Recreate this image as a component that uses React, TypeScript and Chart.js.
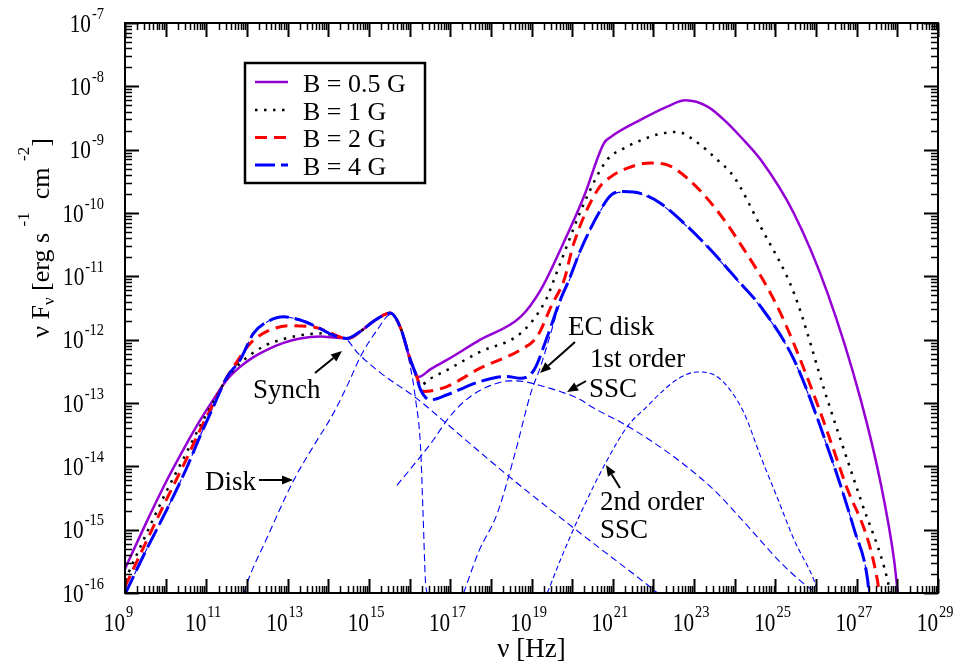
import { useEffect, useRef } from 'react';
import { Chart, registerables } from 'chart.js';

Chart.register(...registerables);

const SERIF = '"Liberation Serif", "Times New Roman", Times, serif';

// ---- Data (log10 of frequency [Hz] and log10 of nuFnu [erg s^-1 cm^-2]) ----
const b05LogNu = [9.0, 9.5, 10.03, 10.5, 10.85, 11.17, 11.5, 11.83, 12.15, 12.49, 12.9, 13.31, 13.8, 14.21, 14.5, 14.79, 15.16, 15.53, 15.77, 16.02, 16.22, 16.51, 16.92, 17.74, 18.73, 19.22, 19.71, 20.29, 20.78, 20.95, 21.68, 22.34, 22.79, 23.33, 23.82, 24.15, 24.64, 25.45, 26.28, 27.1, 27.6, 27.92, 28.01];
const b05LogF = [-15.62, -14.92, -14.22, -13.66, -13.27, -12.95, -12.64, -12.43, -12.28, -12.16, -12.05, -11.98, -11.95, -11.97, -11.98, -11.87, -11.69, -11.58, -11.8, -12.32, -12.59, -12.47, -12.32, -12.0, -11.64, -11.22, -10.58, -9.74, -8.9, -8.8, -8.53, -8.32, -8.22, -8.32, -8.58, -8.8, -9.16, -10.0, -11.26, -12.95, -14.3, -15.48, -16.0];

const b1LogNu = [9.0, 9.5, 10.0, 10.5, 10.85, 11.2, 11.5, 11.67, 12.08, 12.49, 12.9, 13.31, 13.88, 14.21, 14.5, 14.79, 15.16, 15.53, 15.77, 16.02, 16.14, 16.27, 16.5, 16.92, 17.74, 18.73, 19.34, 19.55, 19.71, 20.29, 20.86, 21.27, 21.7, 22.1, 22.59, 23.0, 23.57, 23.98, 24.64, 25.46, 26.28, 27.1, 27.76, 27.82];
const b1LogF = [-15.8, -15.1, -14.42, -13.8, -13.36, -12.95, -12.62, -12.48, -12.24, -12.08, -11.99, -11.93, -11.9, -11.95, -11.98, -11.87, -11.69, -11.58, -11.8, -12.32, -12.52, -12.72, -12.62, -12.48, -12.19, -11.9, -11.39, -11.06, -10.79, -9.85, -9.16, -8.98, -8.85, -8.76, -8.72, -8.85, -9.16, -9.43, -10.22, -11.27, -12.95, -14.53, -15.8, -16.0];

const b2LogNu = [9.0, 9.5, 10.0, 10.5, 10.85, 11.2, 11.5, 11.67, 12.08, 12.49, 13.06, 13.64, 13.97, 14.3, 14.5, 14.79, 15.16, 15.53, 15.77, 16.02, 16.14, 16.35, 16.6, 16.92, 17.74, 18.73, 19.14, 19.5, 19.8, 20.04, 20.62, 20.95, 21.36, 21.93, 22.34, 22.83, 23.49, 24.1, 25.05, 25.87, 26.69, 27.51, 27.55];
const b2LogF = [-15.9, -15.22, -14.55, -13.9, -13.42, -12.98, -12.6, -12.43, -12.06, -11.87, -11.78, -11.8, -11.87, -11.96, -11.98, -11.87, -11.69, -11.58, -11.8, -12.32, -12.52, -12.82, -12.8, -12.74, -12.45, -12.16, -11.95, -11.45, -11.06, -10.48, -9.64, -9.43, -9.29, -9.21, -9.24, -9.45, -9.9, -10.45, -11.48, -12.74, -14.22, -15.8, -16.0];

const b4LogNu = [9.0, 9.5, 10.0, 10.5, 10.85, 11.2, 11.5, 11.83, 12.16, 12.49, 12.9, 13.31, 13.72, 14.13, 14.46, 14.79, 15.16, 15.53, 15.77, 16.02, 16.14, 16.27, 16.51, 16.92, 17.74, 18.4, 18.73, 19.06, 19.39, 19.71, 19.92, 20.21, 20.7, 20.95, 21.27, 21.68, 22.18, 22.75, 23.33, 24.07, 24.64, 25.46, 26.28, 26.94, 27.27, 27.3];
const b4LogF = [-16.02, -15.35, -14.72, -14.05, -13.52, -13.02, -12.6, -12.32, -11.9, -11.72, -11.64, -11.69, -11.8, -11.93, -11.98, -11.87, -11.69, -11.58, -11.8, -12.32, -12.52, -12.79, -12.95, -12.87, -12.66, -12.58, -12.61, -12.48, -11.95, -11.37, -11.06, -10.58, -9.95, -9.72, -9.66, -9.69, -9.85, -10.16, -10.53, -11.06, -11.48, -12.32, -13.69, -15.0, -15.8, -16.0];

// components (B = 4 G)
const synchLogNu = [9.0, 9.5, 10.0, 10.5, 10.85, 11.2, 11.5, 11.83, 12.16, 12.49, 12.9, 13.31, 13.72, 14.13, 14.46, 14.71, 15.28, 16.18, 16.92, 17.74, 18.56, 20.21, 21.85, 22.1];
const synchLogF = [-16.02, -15.35, -14.72, -14.05, -13.52, -13.02, -12.6, -12.32, -11.9, -11.72, -11.64, -11.69, -11.8, -11.93, -12.0, -12.2, -12.52, -12.93, -13.33, -13.78, -14.22, -15.06, -15.87, -16.0];

const diskLogNu = [11.93, 12.0, 12.5, 13.15, 13.6, 14.13, 14.5, 14.79, 15.2, 15.53, 15.77, 16.02, 16.15, 16.27, 16.33, 16.39, 16.43];
const diskLogF = [-16.0, -15.85, -15.12, -14.22, -13.72, -13.16, -12.68, -12.27, -11.85, -11.61, -11.82, -12.43, -12.95, -13.69, -14.7, -15.8, -16.0];

const ecDiskLogNu = [17.33, 17.7, 18.16, 18.6, 18.98, 19.22, 19.45, 19.71, 19.92, 20.21, 20.7, 20.95, 21.27, 21.68, 22.18, 22.75, 23.33, 24.07, 24.64, 25.46, 26.28, 26.94, 27.27, 27.3];
const ecDiskLogF = [-16.0, -15.35, -14.74, -13.78, -12.85, -12.43, -11.95, -11.4, -11.08, -10.6, -9.96, -9.73, -9.67, -9.7, -9.86, -10.17, -10.54, -11.07, -11.49, -12.33, -13.7, -15.0, -15.8, -16.0];

const ssc1LogNu = [15.69, 16.2, 16.59, 16.92, 17.3, 17.74, 18.1, 18.45, 18.8, 19.3, 19.8, 20.21, 20.53, 21.27, 21.9, 22.67, 23.5, 24.3, 25.1, 25.6, 26.0];
const ssc1LogF = [-14.3, -13.9, -13.58, -13.27, -13.0, -12.8, -12.7, -12.65, -12.66, -12.74, -12.84, -12.95, -13.08, -13.33, -13.58, -13.93, -14.38, -14.93, -15.5, -15.8, -16.0];

const ssc2LogNu = [19.39, 19.71, 20.21, 20.82, 21.36, 21.85, 22.18, 22.6, 23.08, 23.5, 23.82, 24.23, 24.64, 25.05, 25.46, 25.95, 26.05];
const ssc2LogF = [-16.0, -15.48, -14.74, -13.95, -13.37, -13.05, -12.84, -12.62, -12.51, -12.56, -12.74, -13.16, -13.85, -14.5, -15.16, -15.8, -16.0];

const seriesLabels = ['B = 0.5 G', 'B = 1 G', 'B = 2 G', 'B = 4 G'];
const xLabelExps = [9, 11, 13, 15, 17, 19, 21, 23, 25, 27, 29];
const yLabelExps = [-7, -8, -9, -10, -11, -12, -13, -14, -15, -16];

const toPts = (lx: number[], ly: number[]) => lx.map((v, i) => ({ x: Math.pow(10, v), y: Math.pow(10, ly[i]) }));

const PURPLE = '#9400d3';
const RED = '#ff0000';
const BLUE = '#0000ff';

const styles = [
  { color: PURPLE, width: 2.5, dash: [] as number[] },
  { color: '#000000', width: 2.5, dash: [2.5, 6.5] },
  { color: RED, width: 3, dash: [12, 7] },
  { color: BLUE, width: 3, dash: [20, 6] },
];

function txt(ctx: CanvasRenderingContext2D, t: string, x: number, y: number, size: number, sx = 1) {
  ctx.save();
  ctx.font = `${size}px ${SERIF}`;
  ctx.translate(x, y);
  ctx.scale(sx, 1);
  ctx.fillText(t, 0, 0);
  ctx.restore();
}
function meas(ctx: CanvasRenderingContext2D, t: string, size: number, sx = 1) {
  ctx.font = `${size}px ${SERIF}`;
  return ctx.measureText(t).width * sx;
}
function arrow(ctx: CanvasRenderingContext2D, x1: number, y1: number, x2: number, y2: number) {
  const ang = Math.atan2(y2 - y1, x2 - x1);
  const hl = 11, hw = 4.5;
  const bx = x2 - hl * Math.cos(ang), by = y2 - hl * Math.sin(ang);
  ctx.lineWidth = 2;
  ctx.setLineDash([]);
  ctx.beginPath();
  ctx.moveTo(x1, y1);
  ctx.lineTo(bx, by);
  ctx.stroke();
  ctx.beginPath();
  ctx.moveTo(x2, y2);
  ctx.lineTo(bx + hw * Math.sin(ang), by - hw * Math.cos(ang));
  ctx.lineTo(bx - hw * Math.sin(ang), by + hw * Math.cos(ang));
  ctx.closePath();
  ctx.fill();
}

const decor = {
  id: 'decor',
  afterDraw(chart: any) {
    const { ctx, chartArea: a, scales } = chart;
    const xs = scales.x, ys = scales.y;
    ctx.save();
    ctx.fillStyle = '#000';
    ctx.strokeStyle = '#000';
    ctx.textAlign = 'left';
    ctx.textBaseline = 'alphabetic';
    ctx.setLineDash([]);

    // ticks x
    for (let n = 9; n <= 29; n++) {
      for (let k = 1; k <= 9; k++) {
        if (n === 29 && k > 1) break;
        const px = Math.round(xs.getPixelForValue(k * Math.pow(10, n))) + 0.5;
        const len = k === 1 ? 14 : 7;
        ctx.lineWidth = k === 1 ? 2 : 1.5;
        ctx.beginPath();
        ctx.moveTo(px, a.bottom);
        ctx.lineTo(px, a.bottom - len);
        ctx.moveTo(px, a.top);
        ctx.lineTo(px, a.top + len);
        ctx.stroke();
      }
    }
    // ticks y
    for (let n = -16; n <= -7; n++) {
      for (let k = 1; k <= 9; k++) {
        if (n === -7 && k > 1) break;
        const py = Math.round(ys.getPixelForValue(k * Math.pow(10, n))) + 0.5;
        const len = k === 1 ? 14 : 7;
        ctx.lineWidth = k === 1 ? 2 : 1.5;
        ctx.beginPath();
        ctx.moveTo(a.left, py);
        ctx.lineTo(a.left + len, py);
        ctx.moveTo(a.right, py);
        ctx.lineTo(a.right - len, py);
        ctx.stroke();
      }
    }
    // frame
    ctx.lineWidth = 2;
    ctx.strokeRect(a.left, a.top, a.right - a.left, a.bottom - a.top);

    const SX = 0.85;
    // x labels
    for (const e of xLabelExps) {
      const px = xs.getPixelForValue(Math.pow(10, e));
      const w10 = meas(ctx, '10', 25, SX);
      txt(ctx, '10', px - w10, 631, 25, SX);
      txt(ctx, String(e), px + 1, 617, 17, SX);
    }
    // y labels
    for (const e of yLabelExps) {
      const py = ys.getPixelForValue(Math.pow(10, e));
      const s = String(e);
      const ws = meas(ctx, s, 17, SX);
      const w10 = meas(ctx, '10', 25, SX);
      const right = 104;
      txt(ctx, s, right - ws, py + 8.5 - 13, 17, SX);
      txt(ctx, '10', right - ws - 1 - w10, py + 8.5, 25, SX);
    }

    // x title
    ctx.textAlign = 'center';
    ctx.font = `27px ${SERIF}`;
    ctx.fillText('\u03bd [Hz]', (a.left + a.right) / 2, 657);
    ctx.textAlign = 'left';

    // y title (rotated)
    const parts = [
      { t: '\u03bd F', s: 26, dy: 0 },
      { t: '\u03bd', s: 17, dy: 5 },
      { t: ' [erg s ', s: 26, dy: 0 },
      { t: '-1', s: 17, dy: -20 },
      { t: '  cm ', s: 26, dy: 0 },
      { t: '-2', s: 17, dy: -20 },
      { t: ']', s: 26, dy: 0 },
    ];
    let total = 0;
    for (const p of parts) total += meas(ctx, p.t, p.s);
    ctx.save();
    ctx.translate(49, 238);
    ctx.rotate(-Math.PI / 2);
    let cx = -total / 2;
    for (const p of parts) {
      ctx.font = `${p.s}px ${SERIF}`;
      ctx.fillText(p.t, cx, p.dy);
      cx += ctx.measureText(p.t).width;
    }
    ctx.restore();

    // legend
    ctx.fillStyle = '#fff';
    ctx.fillRect(245, 63, 180, 120);
    ctx.fillStyle = '#000';
    ctx.lineWidth = 2.5;
    ctx.strokeRect(245, 63, 180, 120);
    const lys = [82, 110, 137.5, 165];
    const tys = [92, 119.5, 147, 174.5];
    seriesLabels.forEach((lab, i) => {
      const st = styles[i];
      ctx.strokeStyle = st.color;
      ctx.lineWidth = st.width;
      ctx.setLineDash(st.dash);
      ctx.beginPath();
      ctx.moveTo(255, lys[i]);
      ctx.lineTo(288, lys[i]);
      ctx.stroke();
      ctx.setLineDash([]);
      txt(ctx, lab, 303, tys[i], 26);
    });
    ctx.strokeStyle = '#000';

    // annotations
    const A = 27;
    txt(ctx, 'Synch', 253, 398, A);
    arrow(ctx, 315, 373, 342, 351);
    txt(ctx, 'Disk', 205, 490, A);
    arrow(ctx, 259, 480, 293, 480);
    txt(ctx, 'EC disk', 568, 335, A);
    arrow(ctx, 575, 342, 540, 373);
    txt(ctx, '1st order', 590, 367, A);
    txt(ctx, 'SSC', 589, 397, A);
    arrow(ctx, 586, 381, 567, 392);
    txt(ctx, '2nd order', 600, 510, A);
    txt(ctx, 'SSC', 600, 538, A);
    arrow(ctx, 620, 488, 606, 465);

    ctx.restore();
  },
};

export default function App() {
  const ref = useRef<HTMLCanvasElement | null>(null);
  useEffect(() => {
    if (!ref.current) return;
    const mk = (label: string, lx: number[], ly: number[], st: any, order: number) => ({
      label,
      data: toPts(lx, ly),
      borderColor: st.color,
      borderWidth: st.width,
      borderDash: st.dash,
      borderCapStyle: 'butt',
      pointRadius: 0,
      fill: false,
      tension: 0.4,
      cubicInterpolationMode: 'monotone',
      order,
    });
    const thin = { color: BLUE, width: 1.1, dash: [7, 4] };
    const thin2 = { color: BLUE, width: 1.1, dash: [5, 3] };
    const chart = new Chart(ref.current, {
      type: 'line',
      data: {
        datasets: [
          mk(seriesLabels[3], b4LogNu, b4LogF, styles[3], 0),
          mk(seriesLabels[2], b2LogNu, b2LogF, styles[2], 1),
          mk(seriesLabels[1], b1LogNu, b1LogF, styles[1], 2),
          mk(seriesLabels[0], b05LogNu, b05LogF, styles[0], 3),
          mk('Synch', synchLogNu, synchLogF, thin, 10),
          mk('Disk', diskLogNu, diskLogF, thin, 10),
          mk('EC disk', ecDiskLogNu, ecDiskLogF, thin, 10),
          mk('1st order SSC', ssc1LogNu, ssc1LogF, thin, 10),
          mk('2nd order SSC', ssc2LogNu, ssc2LogF, thin2, 10),
        ] as any,
      },
      options: {
        animation: false,
        responsive: false,
        maintainAspectRatio: false,
        events: [],
        layout: { padding: { left: 125, right: 26, top: 23, bottom: 72 } },
        scales: {
          x: { type: 'logarithmic', min: 1e9, max: 1e29, display: false },
          y: { type: 'logarithmic', min: 1e-16, max: 1e-7, display: false },
        },
        plugins: { legend: { display: false }, tooltip: { enabled: false } },
      } as any,
      plugins: [decor],
    });
    return () => chart.destroy();
  }, []);
  return (
    <div style={{ position: 'absolute', left: 0, top: 0, width: 964, height: 665, background: '#fff' }}>
      <canvas ref={ref} width={964} height={665} style={{ width: 964, height: 665, display: 'block' }} />
    </div>
  );
}
